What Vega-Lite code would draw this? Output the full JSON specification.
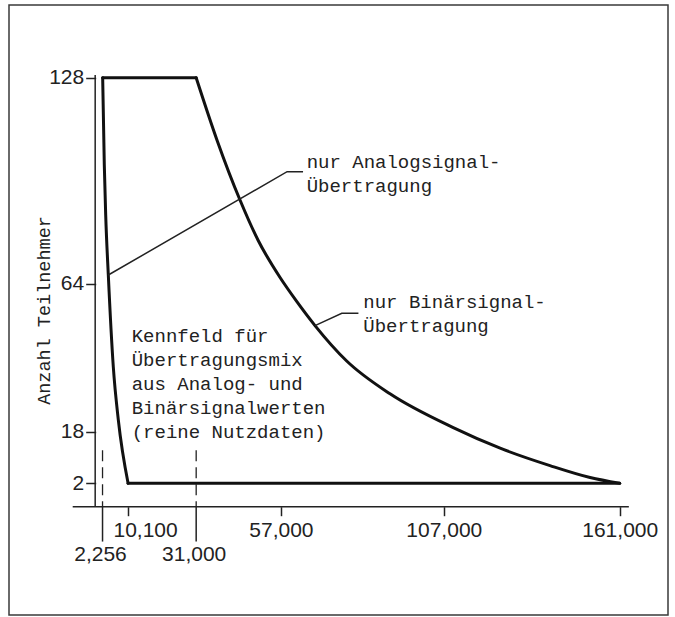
{
  "$schema": "https://vega.github.io/schema/vega-lite/v6.json",
  "autosize": {"type": "none"},
  "width": 659,
  "height": 610,
  "padding": {"left": 9, "top": 5, "right": 7, "bottom": 2},
  "background": "white",
  "config": {
    "view": {"stroke": "#3a3a3a", "strokeWidth": 1.5},
    "axis": {"grid": false, "domain": false}
  },
  "datasets": {
    "outline": [
      {"part": "top", "ord": 1, "x": 2300, "y": 128},
      {"part": "top", "ord": 2, "x": 31000, "y": 128},
      {"part": "binaer", "ord": 1, "x": 31000, "y": 128},
      {"part": "binaer", "ord": 2, "x": 37400, "y": 108.6},
      {"part": "binaer", "ord": 3, "x": 44450, "y": 90.0},
      {"part": "binaer", "ord": 4, "x": 50000, "y": 77.5},
      {"part": "binaer", "ord": 5, "x": 56700, "y": 66.0},
      {"part": "binaer", "ord": 6, "x": 61850, "y": 58.5},
      {"part": "binaer", "ord": 7, "x": 67470, "y": 51.0},
      {"part": "binaer", "ord": 8, "x": 77200, "y": 40.0},
      {"part": "binaer", "ord": 9, "x": 90500, "y": 29.8},
      {"part": "binaer", "ord": 10, "x": 109900, "y": 19.3},
      {"part": "binaer", "ord": 11, "x": 124300, "y": 12.9},
      {"part": "binaer", "ord": 12, "x": 139600, "y": 7.5},
      {"part": "binaer", "ord": 13, "x": 151900, "y": 3.8},
      {"part": "binaer", "ord": 14, "x": 161000, "y": 2},
      {"part": "bottom", "ord": 1, "x": 10100, "y": 2},
      {"part": "bottom", "ord": 2, "x": 161000, "y": 2},
      {"part": "analog", "ord": 1, "x": 2300, "y": 128},
      {"part": "analog", "ord": 2, "x": 2800, "y": 100.9},
      {"part": "analog", "ord": 3, "x": 3230, "y": 85.3},
      {"part": "analog", "ord": 4, "x": 4030, "y": 66.7},
      {"part": "analog", "ord": 5, "x": 5560, "y": 38.2},
      {"part": "analog", "ord": 6, "x": 7100, "y": 21.7},
      {"part": "analog", "ord": 7, "x": 10100, "y": 2}
    ],
    "leaders": [
      {"leader": "analog", "ord": 1, "x": 4030, "y": 66.7},
      {"leader": "analog", "ord": 2, "x": 58900, "y": 98.8},
      {"leader": "analog", "ord": 3, "x": 63800, "y": 98.8},
      {"leader": "binaer", "ord": 1, "x": 67470, "y": 51.0},
      {"leader": "binaer", "ord": 2, "x": 75700, "y": 54.8},
      {"leader": "binaer", "ord": 3, "x": 80800, "y": 54.8}
    ],
    "axislines": [
      {"x": 0, "y": 128.8, "x2": 0, "y2": -5.27},
      {"x": -6900, "y": -5.27, "x2": 163800, "y2": -5.27}
    ],
    "dashmarks": [
      {"x": 2256, "y": 12.3, "y2": -5.27},
      {"x": 31000, "y": 12.3, "y2": -5.27}
    ],
    "longticks": [
      {"x": 2256, "y": -5.27, "y2": -16.1},
      {"x": 31000, "y": -5.27, "y2": -16.1}
    ],
    "lowlabels": [
      {"x": 2256, "y": -20.3, "label": "2,256"},
      {"x": 31000, "y": -20.3, "label": "31,000"}
    ],
    "notes": [
      {"x": 11200, "y": 45.9, "text": "Kennfeld für\nÜbertragungsmix\naus Analog- und\nBinärsignalwerten\n(reine Nutzdaten)"},
      {"x": 64900, "y": 99.9, "text": "nur Analogsignal-\nÜbertragung"},
      {"x": 82300, "y": 56.4, "text": "nur Binärsignal-\nÜbertragung"}
    ]
  },
  "encoding": {
    "x": {
      "field": "x",
      "type": "quantitative",
      "scale": {"domain": [-26452, 175819], "nice": false, "zero": false},
      "axis": {
        "values": [10100, 57000, 107000, 161000],
        "format": ",d",
        "orient": "bottom",
        "offset": -108.3,
        "tickSize": 9,
        "tickWidth": 1.5,
        "tickColor": "#222",
        "labelFont": "Liberation Sans",
        "labelFontSize": 21,
        "labelColor": "#222",
        "labelPadding": 4,
        "labelFlush": false,
        "labelOverlap": false,
        "labelOffset": {"condition": {"test": "datum.value == 10100", "value": 17}, "value": 0},
        "title": null
      }
    },
    "y": {
      "field": "y",
      "type": "quantitative",
      "scale": {"domain": [-38.91, 150.58], "nice": false, "zero": false},
      "axis": {
        "values": [2, 18, 64, 128],
        "format": "d",
        "offset": -86.7,
        "tickSize": 10,
        "tickWidth": 1.5,
        "tickColor": "#222",
        "labelFont": "Liberation Sans",
        "labelFontSize": 21,
        "labelColor": "#222",
        "labelPadding": 2,
        "labelFlush": false,
        "labelOverlap": false,
        "title": "Anzahl Teilnehmer",
        "titleFont": "Liberation Mono",
        "titleFontSize": 18.5,
        "titleFontWeight": "normal",
        "titleColor": "#222",
        "titleAngle": -90,
        "titleX": -52,
        "titleY": 305,
        "titleAlign": "center",
        "titleBaseline": "middle"
      }
    }
  },
  "layer": [
    {
      "data": {"name": "axislines"},
      "mark": {"type": "rule", "strokeWidth": 1.5, "color": "#222"},
      "encoding": {"x2": {"field": "x2"}, "y2": {"field": "y2"}}
    },
    {
      "data": {"name": "dashmarks"},
      "mark": {"type": "rule", "strokeWidth": 1.3, "color": "#222", "strokeDash": [11, 6]},
      "encoding": {"y2": {"field": "y2"}}
    },
    {
      "data": {"name": "longticks"},
      "mark": {"type": "rule", "strokeWidth": 1.5, "color": "#222"},
      "encoding": {"y2": {"field": "y2"}}
    },
    {
      "data": {"name": "outline"},
      "mark": {"type": "line", "strokeWidth": 3, "color": "#111", "strokeCap": "round", "strokeJoin": "round", "interpolate": "monotone"},
      "encoding": {"detail": {"field": "part"}, "order": {"field": "ord", "type": "quantitative"}}
    },
    {
      "data": {"name": "leaders"},
      "mark": {"type": "line", "strokeWidth": 1.5, "color": "#222"},
      "encoding": {"detail": {"field": "leader"}, "order": {"field": "ord", "type": "quantitative"}}
    },
    {
      "data": {"name": "notes"},
      "mark": {"type": "text", "align": "left", "baseline": "alphabetic", "font": "Liberation Mono", "fontSize": 19, "lineBreak": "\n", "lineHeight": 24, "color": "#222"},
      "encoding": {"text": {"field": "text"}}
    },
    {
      "data": {"name": "lowlabels"},
      "mark": {"type": "text", "align": "center", "baseline": "middle", "font": "Liberation Sans", "fontSize": 21, "color": "#222", "dx": -2},
      "encoding": {"text": {"field": "label"}}
    }
  ]
}
